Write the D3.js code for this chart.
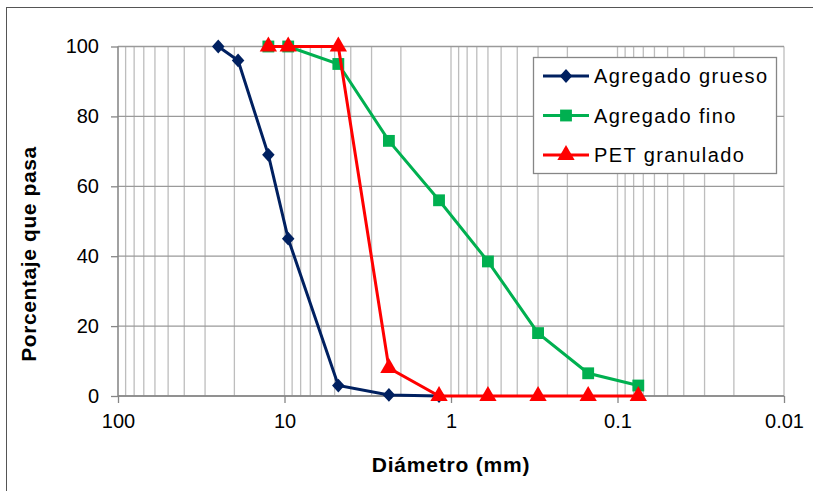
<!DOCTYPE html>
<html>
<head>
<meta charset="utf-8">
<script src="https://cdn.jsdelivr.net/npm/d3@7"></script>
<style>
  body { margin: 0; background: #fff; }
  text { font-family: "Liberation Sans", Arial, sans-serif; }
</style>
</head>
<body>
<div id="chart"></div>
<script>
// tamices (mm) y porcentajes que pasan
let gruesoSize = [25, 19, 12.5, 9.5, 4.75, 2.36, 1.18]
let gruesoPct = [100, 96, 69, 45, 3, 0.3, 0]

let finoSize = [12.5, 9.5, 4.75, 2.36, 1.18, 0.6, 0.3, 0.15, 0.075]
let finoPct = [100, 100, 95, 73, 56, 38.5, 18, 6.5, 3]

let petSize = [12.5, 9.5, 4.75, 2.36, 1.18, 0.6, 0.3, 0.15, 0.075]
let petPct = [100, 100, 100, 8, 0, 0, 0, 0, 0]

let seriesNames = ["Agregado grueso", "Agregado fino", "PET granulado"]
let xTicks = [100, 10, 1, 0.1, 0.01]
let yTicks = [0, 20, 40, 60, 80, 100]

let W = 813, H = 491
let svg = d3.select("#chart").append("svg")
  .attr("width", W).attr("height", H)

// borde exterior
svg.append("rect")
  .attr("x", 6.5).attr("y", 7.5)
  .attr("width", W + 10).attr("height", H + 10)
  .attr("fill", "none").attr("stroke", "#555").attr("stroke-width", 1)

let pLeft = 118, pRight = 784, pTop = 46.5, pBottom = 396

let x = d3.scaleLog().domain([100, 0.01]).range([pLeft, pRight])
let y = d3.scaleLinear().domain([0, 100]).range([pBottom, pTop])

// rejilla vertical (log)
let minor = []
for (let e = -2; e < 2; e++) {
  for (let k = 1; k < 10; k++) minor.push(k * Math.pow(10, e))
}
minor.push(100)
svg.append("g").selectAll("line")
  .data(minor)
  .enter().append("line")
  .attr("x1", d => x(d)).attr("x2", d => x(d))
  .attr("y1", pTop).attr("y2", pBottom)
  .attr("stroke", "#bdbdbd").attr("stroke-width", 1.3)

// rejilla horizontal
svg.append("g").selectAll("line")
  .data(yTicks)
  .enter().append("line")
  .attr("x1", pLeft).attr("x2", pRight)
  .attr("y1", d => y(d)).attr("y2", d => y(d))
  .attr("stroke", "#9a9a9a").attr("stroke-width", 1.3)

// ejes
let gx = svg.append("g")
  .attr("transform", `translate(0,${pBottom})`)
  .call(d3.axisBottom(x).tickValues(xTicks).tickSize(7).tickPadding(11)
    .tickFormat(d => String(d)))
let gy = svg.append("g")
  .attr("transform", `translate(${pLeft},0)`)
  .call(d3.axisLeft(y).tickValues(yTicks).tickSize(7).tickPadding(12))

;[gx, gy].forEach(g => {
  g.select(".domain").attr("stroke", "#868686").attr("stroke-width", 1.3)
  g.selectAll(".tick line").attr("stroke", "#868686").attr("stroke-width", 1.3)
  g.selectAll(".tick text").attr("font-size", "20px").attr("fill", "#000")
    .attr("font-family", "Liberation Sans, Arial, sans-serif")
})
gy.select(".domain").attr("d", `M0,${pBottom}V${pTop}`)
gx.select(".domain").attr("d", `M${pLeft},0H${pRight}`)

// títulos
svg.append("text")
  .attr("x", 451).attr("y", 472)
  .attr("text-anchor", "middle")
  .attr("font-size", "21px").attr("font-weight", "bold")
  .attr("letter-spacing", "0.8px")
  .text("Diámetro (mm)")

svg.append("text")
  .attr("transform", `translate(36,254) rotate(-90)`)
  .attr("text-anchor", "middle")
  .attr("font-size", "21px").attr("font-weight", "bold")
  .attr("letter-spacing", "0.6px")
  .text("Porcentaje que pasa")

// series
let colors = ["#002060", "#00b050", "#ff0000"]
let symbols = [d3.symbolDiamond2, d3.symbolSquare, d3.symbolTriangle]
let symSize = [100, 140, 130]
let series = [
  d3.zip(gruesoSize, gruesoPct),
  d3.zip(finoSize, finoPct),
  d3.zip(petSize, petPct)
]

let line = d3.line().x(d => x(d[0])).y(d => y(d[1]))

function marker(i) {
  let p = d3.symbol().type(symbols[i]).size(symSize[i])
  return p()
}

series.forEach((s, i) => {
  let g = svg.append("g")
  g.append("path")
    .datum(s)
    .attr("d", line)
    .attr("fill", "none")
    .attr("stroke", colors[i])
    .attr("stroke-width", 3)
  g.selectAll("path.m")
    .data(s)
    .enter().append("path")
    .attr("class", "m")
    .attr("d", marker(i))
    .attr("transform", d => `translate(${x(d[0])},${y(d[1])})` + (i == 0 ? " scale(1,1.1)" : ""))
    .attr("fill", colors[i])
})

// leyenda
let lg = svg.append("g")
lg.append("rect")
  .attr("x", 533.5).attr("y", 57.5)
  .attr("width", 243).attr("height", 116)
  .attr("fill", "#fff").attr("stroke", "#868686").attr("stroke-width", 1.3)

seriesNames.forEach((name, i) => {
  let cy = 76 + i * 39.5
  lg.append("line")
    .attr("x1", 543).attr("x2", 589)
    .attr("y1", cy).attr("y2", cy)
    .attr("stroke", colors[i]).attr("stroke-width", 3)
  lg.append("path")
    .attr("d", marker(i))
    .attr("transform", `translate(566,${cy})` + (i == 0 ? " scale(1,1.1)" : ""))
    .attr("fill", colors[i])
  lg.append("text")
    .attr("x", 594).attr("y", cy + 7)
    .attr("font-size", "20px")
    .attr("letter-spacing", "1.4px")
    .text(name)
})
</script>
</body>
</html>
